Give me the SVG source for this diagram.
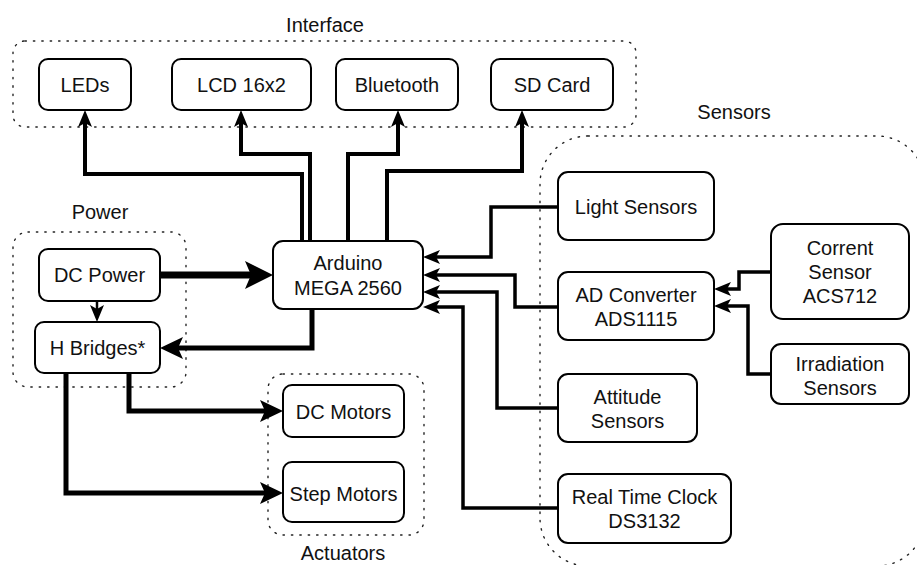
<svg xmlns="http://www.w3.org/2000/svg" width="917" height="565" viewBox="0 0 917 565">
<style>
.grp{fill:none;stroke:#222;stroke-width:1.4;stroke-dasharray:1.4 7;stroke-linecap:round}
.box{fill:#fff;stroke:#000;stroke-width:2}
text{font-family:"Liberation Sans",Arial,sans-serif;font-size:20px;fill:#111;text-anchor:middle}
.c{fill:none;stroke:#000;stroke-width:4;stroke-linejoin:miter}
</style>
<defs>
<marker id="arr" markerUnits="userSpaceOnUse" markerWidth="18" markerHeight="15" refX="7" refY="7" orient="auto"><path d="M0,0 L17,7 L0,14 L4,7 Z" fill="#000"/></marker>
<marker id="arrL" markerUnits="userSpaceOnUse" markerWidth="24" markerHeight="23" refX="11" refY="11" orient="auto"><path d="M0,0 L23,11 L0,22 L5,11 Z" fill="#000"/></marker>
<marker id="arrXL" markerUnits="userSpaceOnUse" markerWidth="29" markerHeight="29" refX="14" refY="14" orient="auto"><path d="M0,0 L28,14 L0,28 L6,14 Z" fill="#000"/></marker>
</defs>
<rect width="917" height="565" fill="#fff"/>

<g id="group-interface">
<rect class="grp" x="13" y="41" width="623" height="86" rx="12"/>
<text x="325" y="32">Interface</text>
</g>
<g id="group-power">
<rect class="grp" x="13" y="232" width="173" height="155" rx="15"/>
<text x="100" y="219">Power</text>
</g>
<g id="group-actuators">
<rect class="grp" x="268" y="374" width="156" height="161" rx="15"/>
<text x="343" y="560">Actuators</text>
</g>
<g id="group-sensors">
<rect class="grp" x="540" y="136" width="385" height="430" rx="48"/>
<text x="734" y="119">Sensors</text>
</g>

<g id="connectors">
<path class="c" d="M302,241 V174 H85 V120" marker-end="url(#arr)"/>
<path class="c" d="M310,241 V154 H241 V120" marker-end="url(#arr)"/>
<path class="c" d="M348,241 V154 H398 V120" marker-end="url(#arr)"/>
<path class="c" d="M387,241 V171 H522 V120" marker-end="url(#arr)"/>
<path class="c" d="M160,275 H259" style="stroke-width:7" marker-end="url(#arrXL)"/>
<path class="c" d="M97,301 V312" style="stroke-width:2.5" marker-end="url(#arr)"/>
<path class="c" d="M312,309 V348 H172" style="stroke-width:5" marker-end="url(#arrL)"/>
<path class="c" d="M129,373 V411 H271" style="stroke-width:5" marker-end="url(#arrL)"/>
<path class="c" d="M66,373 V493 H271" style="stroke-width:5" marker-end="url(#arrL)"/>
<path class="c" d="M558,207 H491 V257 H433" style="stroke-width:3.5" marker-end="url(#arr)"/>
<path class="c" d="M558,307 H515 V275 H433" style="stroke-width:3.5" marker-end="url(#arr)"/>
<path class="c" d="M558,408 H497 V292 H433" style="stroke-width:3.5" marker-end="url(#arr)"/>
<path class="c" d="M558,508 H463 V307 H433" style="stroke-width:3.5" marker-end="url(#arr)"/>
<path class="c" d="M771,272 H739 V289 H724" style="stroke-width:3.5" marker-end="url(#arr)"/>
<path class="c" d="M771,374 H748 V306 H724" style="stroke-width:3.5" marker-end="url(#arr)"/>
</g>

<g id="leds"><rect class="box" x="39" y="59" width="92" height="51" rx="9"/><text x="85" y="92">LEDs</text></g>
<g id="lcd"><rect class="box" x="172" y="59" width="139" height="51" rx="9"/><text x="241.5" y="92">LCD 16x2</text></g>
<g id="bluetooth"><rect class="box" x="336" y="59" width="122" height="51" rx="9"/><text x="397" y="92">Bluetooth</text></g>
<g id="sdcard"><rect class="box" x="491" y="59" width="122" height="51" rx="9"/><text x="552" y="92">SD Card</text></g>

<g id="arduino"><rect class="box" x="273" y="241" width="150" height="68" rx="10"/><text x="348" y="270">Arduino</text><text x="348" y="295">MEGA 2560</text></g>

<g id="dcpower"><rect class="box" x="39" y="249" width="121" height="52" rx="9"/><text x="99.5" y="282">DC Power</text></g>
<g id="hbridges"><rect class="box" x="35" y="322" width="125" height="51" rx="9"/><text x="97.5" y="355">H Bridges*</text></g>

<g id="dcmotors"><rect class="box" x="283" y="385" width="121" height="52" rx="9"/><text x="343.5" y="419">DC Motors</text></g>
<g id="stepmotors"><rect class="box" x="283" y="462" width="121" height="60" rx="9"/><text x="343.5" y="501">Step Motors</text></g>

<g id="lightsensors"><rect class="box" x="558" y="172" width="156" height="68" rx="10"/><text x="636" y="214">Light Sensors</text></g>
<g id="adconverter"><rect class="box" x="558" y="272" width="156" height="68" rx="10"/><text x="636" y="302">AD Converter</text><text x="636" y="326">ADS1115</text></g>
<g id="attitude"><rect class="box" x="558" y="374" width="139" height="68" rx="10"/><text x="627.5" y="404">Attitude</text><text x="627.5" y="428">Sensors</text></g>
<g id="rtc"><rect class="box" x="558" y="474" width="173" height="69" rx="10"/><text x="644.5" y="504">Real Time Clock</text><text x="644.5" y="528">DS3132</text></g>
<g id="corrent"><rect class="box" x="771" y="224" width="138" height="95" rx="12"/><text x="840" y="255">Corrent</text><text x="840" y="279">Sensor</text><text x="840" y="303">ACS712</text></g>
<g id="irradiation"><rect class="box" x="771" y="344" width="138" height="60" rx="10"/><text x="840" y="371">Irradiation</text><text x="840" y="395">Sensors</text></g>
</svg>
